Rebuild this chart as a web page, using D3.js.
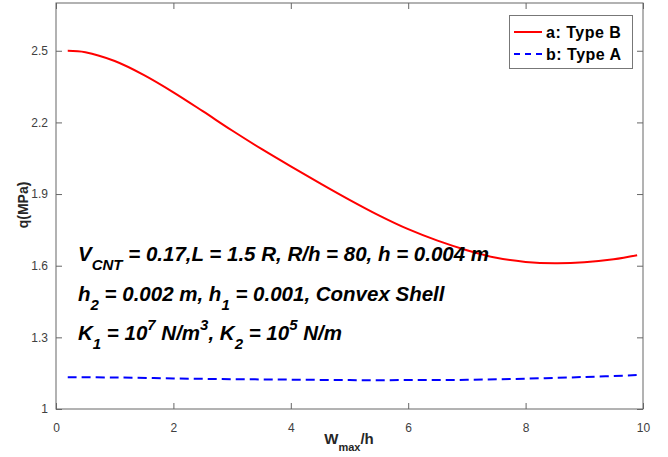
<!DOCTYPE html>
<html><head><meta charset="utf-8">
<script src="https://cdn.jsdelivr.net/npm/d3@7"></script>
<style>body{margin:0;background:#fff}svg{display:block}text{font-family:"Liberation Sans",Arial,sans-serif}</style>
</head><body><svg id="c" width="668" height="457"></svg>
<script>
const xValues = [0.2,0.5,1.0,1.5,2.0,2.5,3.0,3.5,4.0,4.5,5.0,5.5,6.0,6.5,7.0,7.5,8.0,8.5,9.0,9.5,9.9];
const typeB = [2.500,2.494,2.457,2.398,2.326,2.247,2.166,2.089,2.016,1.945,1.876,1.811,1.753,1.705,1.665,1.633,1.616,1.610,1.614,1.627,1.644];
const xValuesA = [0.2,1,2,3,4,5,6,7,8,9,9.9];
const typeA = [1.133,1.132,1.128,1.125,1.123,1.121,1.121,1.122,1.127,1.134,1.142];
const xTicks = [0,2,4,6,8,10];
const yTicks = [1,1.3,1.6,1.9,2.2,2.5];
const seriesNames = ["a: Type B","b: Type A"];

const svg = d3.select("#c");
const L=56,R=643,T=3,B=409;
const x = d3.scaleLinear().domain([0,10]).range([L,R]);
const y = d3.scaleLinear().domain([1,2.7]).range([B,T]);
const axisColor="#666", labColor="#404040";

// axes
const gx = svg.append("g").attr("transform",`translate(0,${B})`)
  .call(d3.axisBottom(x).tickValues(xTicks).tickFormat(d3.format("d")).tickSizeInner(-6).tickSizeOuter(0).tickPadding(12));
const gy = svg.append("g").attr("transform",`translate(${L},0)`)
  .call(d3.axisLeft(y).tickValues(yTicks).tickFormat(d=>d===1?"1":d3.format(".1f")(d)).tickSizeInner(-6).tickSizeOuter(0).tickPadding(8));
const gt = svg.append("g").attr("transform",`translate(0,${T})`)
  .call(d3.axisTop(x).tickValues(xTicks).tickFormat("").tickSizeInner(-6).tickSizeOuter(0));
const gr = svg.append("g").attr("transform",`translate(${R},0)`)
  .call(d3.axisRight(y).tickValues(yTicks).tickFormat("").tickSizeInner(-6).tickSizeOuter(0));
[gx,gy,gt,gr].forEach(g=>{
  g.select(".domain").remove();
  g.selectAll("line").attr("stroke",axisColor);
  g.selectAll("text").attr("fill",labColor).attr("font-size",12).attr("font-family","Liberation Sans, Arial, sans-serif");
});
gx.selectAll("text").attr("dy","0.71em").attr("y",14);
svg.append("rect").attr("x",L).attr("y",T).attr("width",R-L).attr("height",B-T)
  .attr("fill","none").attr("stroke",axisColor).attr("stroke-width",1);

// lines
const lineB = d3.line().x((d,i)=>x(xValues[i])).y(d=>y(d)).curve(d3.curveCatmullRom);
const lineA = d3.line().x((d,i)=>x(xValuesA[i])).y(d=>y(d)).curve(d3.curveCatmullRom);
svg.append("path").attr("d",lineB(typeB)).attr("fill","none").attr("stroke","#ff0000").attr("stroke-width",2);
svg.append("path").attr("d",lineA(typeA)).attr("fill","none").attr("stroke","#0000ff").attr("stroke-width",2).attr("stroke-dasharray","9,5");

// axis labels
const xl = svg.append("text").attr("x",349).attr("y",444).attr("text-anchor","middle")
  .attr("font-weight","bold").attr("font-size",15).attr("fill","#262626");
xl.append("tspan").text("W");
xl.append("tspan").attr("font-size",11).attr("dy",7).text("max");
xl.append("tspan").attr("dy",-7).text("/h");
svg.append("text").attr("transform","translate(28,205) rotate(-90)").attr("text-anchor","middle")
  .attr("font-weight","bold").attr("font-size",14).attr("fill","#262626").text("q(MPa)");

// legend
svg.append("rect").attr("x",509.5).attr("y",15.5).attr("width",123).attr("height",53)
  .attr("fill","#fff").attr("stroke","#777").attr("stroke-width",1);
const colors=["#ff0000","#0000ff"], dashes=[null,"6,5"];
seriesNames.forEach((n,i)=>{
  const cy = 32 + i*22;
  svg.append("line").attr("x1",514).attr("x2",542).attr("y1",cy).attr("y2",cy)
    .attr("stroke",colors[i]).attr("stroke-width",2).attr("stroke-dasharray",dashes[i]);
  svg.append("text").attr("x",546).attr("y",cy+6).attr("font-weight","bold").attr("font-size",16)
    .attr("letter-spacing",0.5).attr("fill","#000").text(n);
});

// annotation
const ann = [
  {y:261, parts:[["V",0],["CNT",1],[" = 0.17,L = 1.5 R, R/h = 80, h = 0.004 m",0]]},
  {y:301, parts:[["h",0],["2",1],[" = 0.002 m, h",0],["1",1],[" = 0.001, Convex Shell",0]]},
  {y:340, parts:[["K",0],["1",1],[" = 10",0],["7",-1],[" N/m",0],["3",-1],[", K",0],["2",1],[" = 10",0],["5",-1],[" N/m",0]]}
];
ann.forEach(a=>{
  const t = svg.append("text").attr("x",78).attr("y",a.y).attr("font-weight","bold").attr("font-style","italic")
    .attr("font-size",20.5).attr("fill","#000");
  let prev=0;
  a.parts.forEach(([s,k])=>{
    const off = k===1?9:(k===-1?-10:0);
    t.append("tspan").attr("dy",off-prev).attr("font-size",k===0?20.5:15).text(s);
    prev=off;
  });
});
</script></body></html>
